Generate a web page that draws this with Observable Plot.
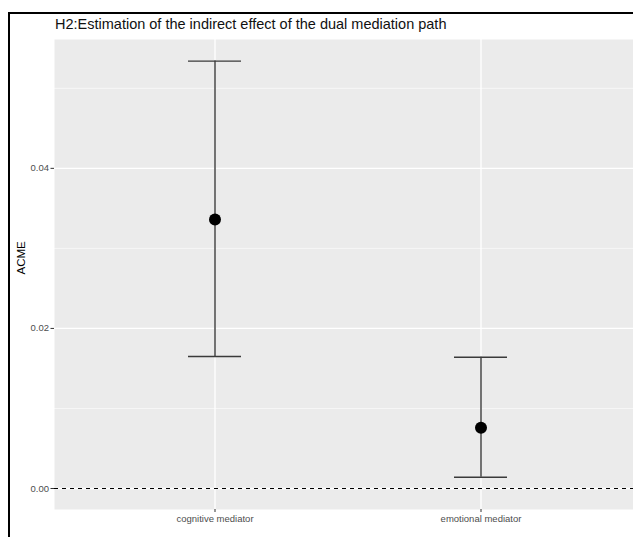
<!DOCTYPE html>
<html>
<head>
<meta charset="utf-8">
<script src="https://cdn.jsdelivr.net/npm/d3@7"></script>
<script src="https://cdn.jsdelivr.net/npm/@observablehq/plot@0.6"></script>
<style>
  html, body { margin: 0; padding: 0; background: #fff; overflow: hidden; }
  #wrap { position: relative; width: 633px; height: 537px; overflow: hidden; font-family: "Liberation Sans", Arial, sans-serif; }
  #frame { position: absolute; left: 8px; top: 12px; width: 700px; height: 600px; border-top: 2px solid #000; border-left: 2px solid #000; box-sizing: border-box; pointer-events: none; z-index: 2; }
  #title { position: absolute; left: 55px; top: 16px; font-size: 14.5px; line-height: 17px; color: #111; white-space: nowrap; z-index: 3; }
  #chart { position: absolute; left: 0; top: 0; width: 641px; }
  #chart svg { max-width: none !important; width: 641px; height: 537px; }
</style>
</head>
<body>
<div id="wrap">
  <div id="chart"></div>
  <div id="frame"></div>
  <div id="title">H2:Estimation of the indirect effect of the dual mediation path</div>
</div>
<script>
const categories = ["cognitive mediator", "emotional mediator"];
const estimates = [0.0336, 0.0076];
const lowerCI = [0.0165, 0.0014];
const upperCI = [0.0534, 0.0164];
const majorTicks = [0, 0.02, 0.04];
const minorTicks = [0.01, 0.03, 0.05];

const data = categories.map((c, i) => ({cat: c, est: estimates[i], lo: lowerCI[i], hi: upperCI[i]}));

const chart = Plot.plot({
  width: 641,
  height: 537,
  marginLeft: 54,
  marginRight: 0,
  marginTop: 39,
  marginBottom: 28,
  style: {fontFamily: "'Liberation Sans', Arial, sans-serif", background: "transparent", overflow: "visible", maxWidth: "none"},
  x: {type: "band", domain: categories, paddingInner: 0.8, paddingOuter: 0.5},
  y: {domain: [-0.002625, 0.0561]},
  marks: [
    Plot.frame({fill: "#ebebeb", stroke: null}),
    Plot.ruleY(minorTicks, {stroke: "#ffffff", strokeWidth: 0.6}),
    Plot.ruleY(majorTicks, {stroke: "#ffffff", strokeWidth: 1.3}),
    Plot.ruleX(categories, {x: d => d, stroke: "#ffffff", strokeWidth: 1.3}),
    Plot.ruleY([0], {stroke: "#000", strokeWidth: 1.1, strokeDasharray: "4,4"}),
    Plot.ruleX(data, {x: "cat", y1: "lo", y2: "hi", stroke: "#3a3a3a", strokeWidth: 1.4}),
    Plot.tickY(data, {x: "cat", y: "hi", stroke: "#3a3a3a", strokeWidth: 1.4}),
    Plot.tickY(data, {x: "cat", y: "lo", stroke: "#3a3a3a", strokeWidth: 1.4}),
    Plot.dot(data, {x: "cat", y: "est", r: 6, fill: "#000", stroke: null}),
    Plot.axisY({ticks: majorTicks, tickFormat: d3.format(".2f"), tickSize: 3.5, tickPadding: 2, fontSize: 9.5, stroke: "#333", fill: "#4d4d4d", label: null}),
    Plot.axisX({tickSize: 3, tickPadding: 3, fontSize: 9.5, stroke: "#333", fill: "#4d4d4d", label: null}),
    Plot.text(["ACME"], {frameAnchor: "left", rotate: -90, dx: -33, fontSize: 11.5, fill: "#000"})
  ]
});
document.getElementById("chart").appendChild(chart);
</script>
</body>
</html>
